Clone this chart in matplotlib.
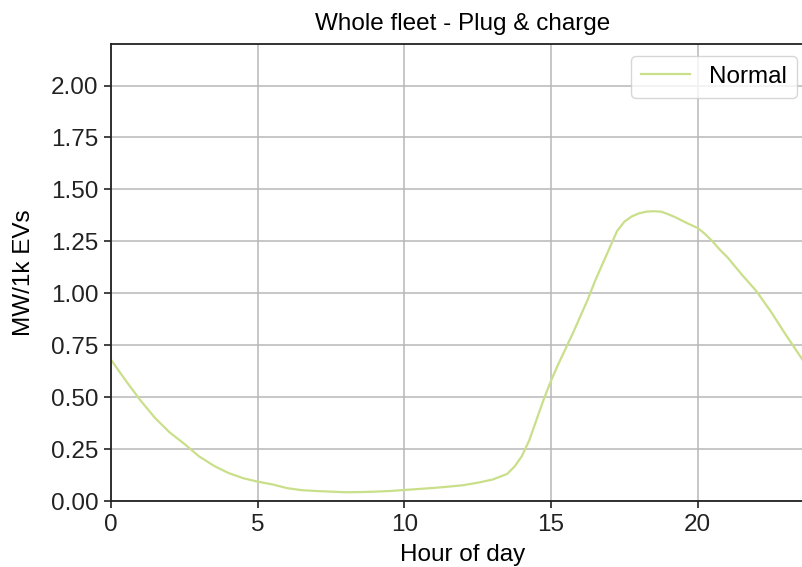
import matplotlib
matplotlib.use("Agg")
import matplotlib.pyplot as plt

# average fleet demand over the day, MW per 1000 EVs
hours = [0, 0.5, 1, 1.5, 2, 2.5, 3, 3.5, 4, 4.5, 5, 5.5, 6, 6.5, 7, 7.5, 8, 8.5,
         9, 9.5, 10, 10.5, 11, 11.5, 12, 12.5, 13, 13.5, 13.75, 14, 14.25, 14.5,
         14.75, 15, 15.25, 15.5, 15.75, 16, 16.25, 16.5, 16.75, 17, 17.25, 17.5,
         17.75, 18, 18.25, 18.5, 18.75, 19, 19.25, 19.5, 19.75, 20, 20.25, 20.5,
         20.75, 21, 21.5, 22, 22.5, 23, 23.5, 23.75]
demand = [0.68, 0.58, 0.485, 0.40, 0.33, 0.275, 0.215, 0.17, 0.135, 0.11, 0.093,
          0.08, 0.062, 0.052, 0.048, 0.045, 0.042, 0.043, 0.045, 0.048, 0.053,
          0.058, 0.063, 0.069, 0.076, 0.088, 0.103, 0.13, 0.165, 0.215, 0.29,
          0.39, 0.49, 0.58, 0.66, 0.735, 0.81, 0.89, 0.97, 1.06, 1.14, 1.22,
          1.30, 1.345, 1.37, 1.385, 1.393, 1.395, 1.393, 1.38, 1.365, 1.347,
          1.33, 1.314, 1.285, 1.25, 1.21, 1.175, 1.09, 1.01, 0.91, 0.80, 0.695,
          0.64]

plt.rcParams['font.family'] = ['Liberation Sans', 'DejaVu Sans']
fs = 17.5

fig = plt.figure(figsize=(8.02, 5.67), dpi=100)
# axes run a little past the right edge of the canvas
ax = fig.add_axes([0.1384, 0.1164, 0.878, 0.806])

ax.plot(hours, demand, color='#c9df8a', linewidth=1.6, label='Normal')

ax.set_xlim(0, 24)
ax.set_ylim(0, 2.2)
ax.set_xticks([0, 5, 10, 15, 20])
ax.set_yticks([0, 0.25, 0.5, 0.75, 1.0, 1.25, 1.5, 1.75, 2.0])
ax.set_yticklabels([f"{v:.2f}" for v in ax.get_yticks()])
ax.grid(True, color='#b8b8b8', linewidth=1.1)
ax.set_axisbelow(True)

ax.tick_params(labelsize=fs, length=5, width=1.2, pad=4, colors='#222222')
for s in ax.spines.values():
    s.set_linewidth(1.3)
    s.set_color('#222222')

ax.set_title('Whole fleet - Plug & charge', fontsize=fs, pad=10)
ax.set_xlabel('Hour of day', fontsize=fs, labelpad=6)
ax.set_ylabel('MW/1k EVs', fontsize=fs, labelpad=11.5)
# keep the legend box inside the visible part of the axes
ax.legend(loc='upper right', bbox_to_anchor=(0.991, 1.0), fontsize=fs,
          handlelength=2.0)

fig.savefig('out.png', dpi=100)
